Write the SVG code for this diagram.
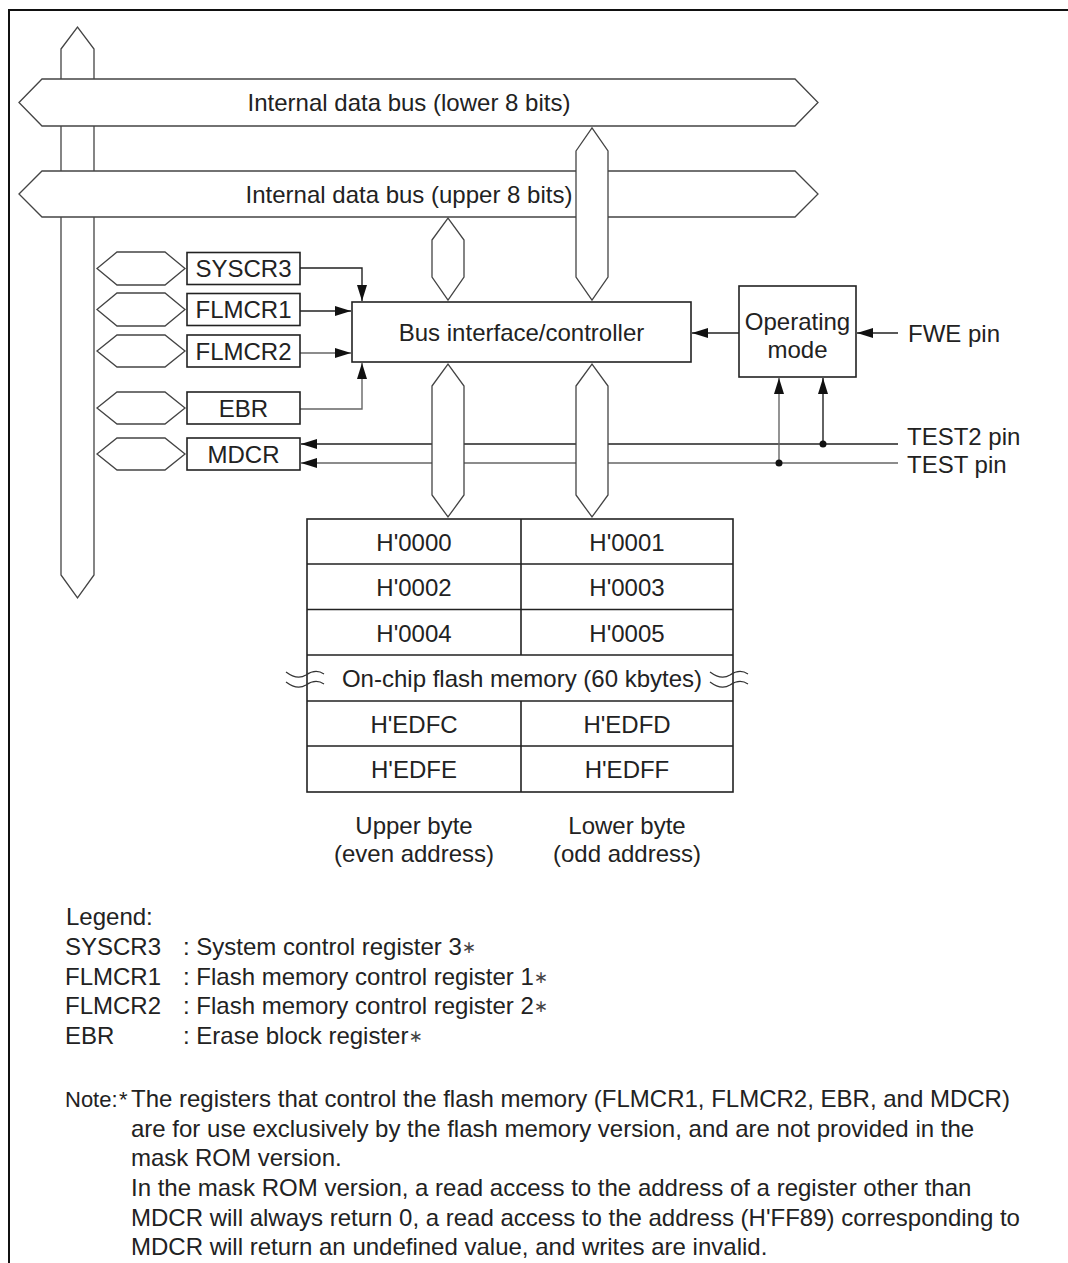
<svg xmlns="http://www.w3.org/2000/svg" width="1068" height="1263" viewBox="0 0 1068 1263">
<style>
text{font-family:"Liberation Sans",Arial,Helvetica,sans-serif;font-size:24px;fill:#222}
.c{text-anchor:middle}
.bus{fill:#fff;stroke:#444;stroke-width:1.3;stroke-linejoin:miter}
.box{fill:#fff;stroke:#222;stroke-width:1.6}
.ln{fill:none;stroke:#222;stroke-width:1.4}
.lg{fill:none;stroke:#666;stroke-width:1.4}
.tbl{fill:none;stroke:#222;stroke-width:1.6}
.wave{fill:none;stroke:#333;stroke-width:1.2}
.ast{font-family:"DejaVu Sans",sans-serif;font-size:17px;fill:#444}
text.nt{font-size:22px}
</style>
<defs>
<marker id="ah" markerUnits="userSpaceOnUse" markerWidth="17" markerHeight="11" refX="16" refY="5" orient="auto">
<path d="M0,0 L16,5 L0,10 Z" fill="#111"/>
</marker>
</defs>
<rect x="0" y="0" width="1068" height="1263" fill="#fff"/>
<g id="frame"><path d="M9,1263 V10 H1068" fill="none" stroke="#111" stroke-width="2"/></g>

<g id="bus-vertical-left"><polygon class="bus" points="61,49 77.5,27 94,49 94,575 77.5,598 61,575"/></g>
<g id="bus-lower"><polygon class="bus" points="19,102.5 42,79 795,79 818,102.5 795,126 42,126"/><text class="c" x="409" y="111">Internal data bus (lower 8 bits)</text></g>
<g id="bus-upper"><polygon class="bus" points="19,194 42,171 795,171 818,194 795,217 42,217"/><text class="c" x="409" y="202.5">Internal data bus (upper 8 bits)</text></g>
<g id="bus-lower-down"><polygon class="bus" points="576,151 592,128 608,151 608,277 592,300 576,277"/></g>
<g id="bus-upper-down"><polygon class="bus" points="432,240 448,218 464,240 464,277 448,300 432,277"/></g>

<g id="connectors">
<path class="ln" d="M300,268 H362 V301" marker-end="url(#ah)"/>
<path class="ln" d="M300,311 H351" marker-end="url(#ah)"/>
<path class="lg" d="M300,353 H351" marker-end="url(#ah)"/>
<path class="lg" d="M300,409 H362 V363" marker-end="url(#ah)"/>
<path class="ln" d="M898,444 H301" marker-end="url(#ah)"/>
<path class="lg" d="M898,463 H301" marker-end="url(#ah)"/>
<path class="ln" d="M739,333 H692" marker-end="url(#ah)"/>
<path class="ln" d="M898,333 H857" marker-end="url(#ah)"/>
<path class="lg" d="M779,463 V378" marker-end="url(#ah)"/>
<path class="ln" d="M823,444 V378" marker-end="url(#ah)"/>
<circle cx="779" cy="463" r="3.5" fill="#111"/>
<circle cx="823" cy="444" r="3.5" fill="#111"/>
</g>

<g id="bus-mem-upper"><polygon class="bus" points="432,386 448,364 464,386 464,495 448,517 432,495"/></g>
<g id="bus-mem-lower"><polygon class="bus" points="576,386 592,364 608,386 608,495 592,517 576,495"/></g>

<g id="hex-syscr3"><polygon class="bus" points="97,268.5 117,252 165,252 185,268.5 165,285 117,285"/></g>
<g id="hex-flmcr1"><polygon class="bus" points="97,309.5 117,293 165,293 185,309.5 165,326 117,326"/></g>
<g id="hex-flmcr2"><polygon class="bus" points="97,351 117,335 165,335 185,351 165,367 117,367"/></g>
<g id="hex-ebr"><polygon class="bus" points="97,408 117,392 165,392 185,408 165,424 117,424"/></g>
<g id="hex-mdcr"><polygon class="bus" points="97,454 117,438 165,438 185,454 165,470 117,470"/></g>

<g id="reg-syscr3"><rect class="box" x="187" y="252.5" width="113" height="32"/><text class="c" x="243.5" y="277">SYSCR3</text></g>
<g id="reg-flmcr1"><rect class="box" x="187" y="293.5" width="113" height="32"/><text class="c" x="243.5" y="318">FLMCR1</text></g>
<g id="reg-flmcr2"><rect class="box" x="187" y="335" width="113" height="32"/><text class="c" x="243.5" y="359.5">FLMCR2</text></g>
<g id="reg-ebr"><rect class="box" x="187" y="392" width="113" height="32"/><text class="c" x="243.5" y="416.5">EBR</text></g>
<g id="reg-mdcr"><rect class="box" x="187" y="438" width="113" height="32"/><text class="c" x="243.5" y="462.5">MDCR</text></g>

<g id="controller"><rect class="box" x="352" y="302" width="339" height="60"/><text class="c" x="521.5" y="341">Bus interface/controller</text></g>
<g id="operating-mode"><rect class="box" x="739" y="286" width="117" height="91"/><text class="c" x="797.5" y="330">Operating</text><text class="c" x="797.5" y="358">mode</text></g>

<g id="pins">
<text x="908" y="341.5">FWE pin</text>
<text x="907" y="445">TEST2 pin</text>
<text x="907" y="473">TEST pin</text>
</g>

<g id="memory">
<rect class="tbl" x="307" y="519" width="426" height="273" fill="#fff"/>
<path class="tbl" d="M307,564 H733 M307,609.5 H733 M307,655 H733 M307,701 H733 M307,746 H733 M521,519 V655 M521,701 V792"/>
<text class="c" x="414" y="551">H'0000</text><text class="c" x="627" y="551">H'0001</text>
<text class="c" x="414" y="596">H'0002</text><text class="c" x="627" y="596">H'0003</text>
<text class="c" x="414" y="641.5">H'0004</text><text class="c" x="627" y="641.5">H'0005</text>
<text class="c" x="522" y="687">On-chip flash memory (60 kbytes)</text>
<text class="c" x="414" y="733">H'EDFC</text><text class="c" x="627" y="733">H'EDFD</text>
<text class="c" x="414" y="778">H'EDFE</text><text class="c" x="627" y="778">H'EDFF</text>
<path class="wave" d="M286,672 C294,678 301,678 306,675 C312,671 318,670 324,674 M286,682 C294,688 301,688 306,685 C312,681 318,680 324,684"/>
<path class="wave" d="M710,672 C718,678 725,678 730,675 C736,671 742,670 748,674 M710,682 C718,688 725,688 730,685 C736,681 742,680 748,684"/>
</g>

<g id="byte-labels">
<text class="c" x="414" y="834">Upper byte</text>
<text class="c" x="414" y="862">(even address)</text>
<text class="c" x="627" y="834">Lower byte</text>
<text class="c" x="627" y="862">(odd address)</text>
</g>

<g id="legend">
<text x="66" y="925">Legend:</text>
<text x="65" y="955">SYSCR3</text><text x="183" y="955">: System control register 3<tspan class="ast" dy="-2">∗</tspan></text>
<text x="65" y="985">FLMCR1</text><text x="183" y="985">: Flash memory control register 1<tspan class="ast" dy="-2">∗</tspan></text>
<text x="65" y="1014">FLMCR2</text><text x="183" y="1014">: Flash memory control register 2<tspan class="ast" dy="-2">∗</tspan></text>
<text x="65" y="1044">EBR</text><text x="183" y="1044">: Erase block register<tspan class="ast" dy="-2">∗</tspan></text>
</g>

<g id="note">
<text class="nt" x="65" y="1107">Note:</text>
<text class="nt" x="119" y="1107">*</text>
<text x="131" y="1107">The registers that control the flash memory (FLMCR1, FLMCR2, EBR, and MDCR)</text>
<text x="131" y="1137">are for use exclusively by the flash memory version, and are not provided in the</text>
<text x="131" y="1166">mask ROM version.</text>
<text x="131" y="1196">In the mask ROM version, a read access to the address of a register other than</text>
<text x="131" y="1226">MDCR will always return 0, a read access to the address (H'FF89) corresponding to</text>
<text x="131" y="1255">MDCR will return an undefined value, and writes are invalid.</text>
</g>
</svg>
